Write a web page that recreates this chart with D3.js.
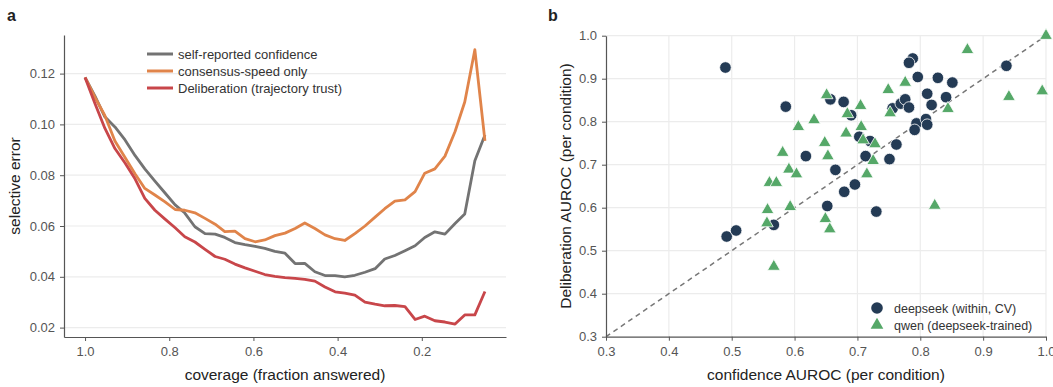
<html>
<head>
<meta charset="utf-8">
<title>Selective error and AUROC</title>
<script src="https://d3js.org/d3.v7.min.js"></script>
<style>
  body { margin: 0; background: #fff; }
  text { font-family: "Liberation Sans", Arial, sans-serif; }
</style>
</head>
<body>
<div id="chart"></div>
<script>
// panel a data
var coverage = [1.000, 0.976, 0.953, 0.929, 0.905, 0.881, 0.858, 0.834, 0.810, 0.786,
    0.763, 0.739, 0.715, 0.691, 0.668, 0.644, 0.620, 0.596, 0.573, 0.549,
    0.525, 0.501, 0.478, 0.454, 0.430, 0.406, 0.383, 0.359, 0.335, 0.311,
    0.288, 0.264, 0.240, 0.216, 0.193, 0.169, 0.145, 0.121, 0.098, 0.074, 0.050];
var selfReported = [0.1185, 0.1110, 0.1030, 0.0990, 0.0939, 0.0877, 0.0825, 0.0777, 0.0730, 0.0683,
    0.0651, 0.0597, 0.0570, 0.0568, 0.0555, 0.0535, 0.0527, 0.0520, 0.0512, 0.0500,
    0.0493, 0.0452, 0.0453, 0.0420, 0.0405, 0.0405, 0.0400, 0.0406, 0.0418, 0.0432,
    0.0470, 0.0484, 0.0503, 0.0522, 0.0555, 0.0577, 0.0568, 0.0610, 0.0647, 0.0857, 0.0958];
var consensusSpeed = [0.1185, 0.1105, 0.1035, 0.0935, 0.0870, 0.0805, 0.0748, 0.0722, 0.0695, 0.0665,
    0.0662, 0.0652, 0.0630, 0.0607, 0.0578, 0.0580, 0.0550, 0.0538, 0.0545, 0.0562,
    0.0572, 0.0590, 0.0612, 0.0590, 0.0565, 0.0550, 0.0543, 0.0570, 0.0600, 0.0635,
    0.0668, 0.0698, 0.0703, 0.0735, 0.0808, 0.0825, 0.0875, 0.0972, 0.1088, 0.1294, 0.0935];
var deliberation = [0.1185, 0.1080, 0.0985, 0.0905, 0.0848, 0.0785, 0.0709, 0.0662, 0.0627, 0.0593,
    0.0558, 0.0537, 0.0508, 0.0480, 0.0469, 0.0450, 0.0435, 0.0422, 0.0409, 0.0402,
    0.0397, 0.0394, 0.0390, 0.0383, 0.0360, 0.0341, 0.0336, 0.0328, 0.0300, 0.0292,
    0.0286, 0.0287, 0.0283, 0.0232, 0.0245, 0.0227, 0.0222, 0.0214, 0.0250, 0.0250, 0.0342];
var seriesNames = ["self-reported confidence", "consensus-speed only", "Deliberation (trajectory trust)"];
var seriesColors = ["#737373", "#e0844a", "#c8464a"];
var aXTicks = [1.0, 0.8, 0.6, 0.4, 0.2];
var aYTicks = [0.02, 0.04, 0.06, 0.08, 0.10, 0.12];

// panel b data
var deepseekConf = [0.490, 0.586, 0.618, 0.652, 0.567, 0.492, 0.507, 0.665, 0.679, 0.696,
    0.657, 0.678, 0.690, 0.703, 0.713, 0.720, 0.730, 0.751, 0.762, 0.756,
    0.769, 0.776, 0.782, 0.788, 0.782, 0.796, 0.811, 0.818, 0.828, 0.851,
    0.841, 0.794, 0.791, 0.809, 0.811, 0.937];
var deepseekDelib = [0.926, 0.835, 0.720, 0.604, 0.560, 0.533, 0.547, 0.688, 0.637, 0.654,
    0.852, 0.846, 0.815, 0.765, 0.720, 0.755, 0.591, 0.713, 0.747, 0.831,
    0.842, 0.852, 0.833, 0.947, 0.937, 0.904, 0.865, 0.839, 0.902, 0.891,
    0.857, 0.796, 0.781, 0.806, 0.793, 0.930];
var qwenConf = [0.651, 0.631, 0.606, 0.648, 0.581, 0.653, 0.591, 0.603, 0.560, 0.571,
    0.593, 0.557, 0.556, 0.649, 0.656, 0.567, 0.684, 0.705, 0.682, 0.706,
    0.709, 0.728, 0.725, 0.715, 0.749, 0.776, 0.752, 0.844, 0.875, 0.941,
    0.994, 0.823, 1.000];
var qwenDelib = [0.862, 0.804, 0.788, 0.751, 0.728, 0.720, 0.689, 0.678, 0.658, 0.658,
    0.602, 0.595, 0.564, 0.574, 0.550, 0.463, 0.818, 0.837, 0.773, 0.788,
    0.757, 0.748, 0.709, 0.678, 0.874, 0.891, 0.820, 0.830, 0.967, 0.858,
    0.871, 0.605, 1.000];
var bTicks = [0.3, 0.4, 0.5, 0.6, 0.7, 0.8, 0.9, 1.0];
var bLegend = ["deepseek (within, CV)", "qwen (deepseek-trained)"];

var width = 1053, height = 387,
    tickColor = "#555",
    gridColor = "#ececec",
    spineColor = "#555";

var svg = d3.select("#chart").append("svg")
    .attr("width", width)
    .attr("height", height);

function styleAxis(g) {
    g.select(".domain").attr("stroke", spineColor).attr("stroke-width", 1.2);
    g.selectAll(".tick line").attr("stroke", spineColor);
    g.selectAll(".tick text").attr("fill", tickColor).attr("font-size", 13);
}

// ---------- panel a ----------
var ax = d3.scaleLinear().domain([1.05, 0.0]).range([64, 506]);
var ay = d3.scaleLinear().domain([0.0163, 0.1352]).range([337, 35]);

var pa = svg.append("g");

pa.append("g").selectAll("line").data(aYTicks).enter().append("line")
    .attr("x1", 64).attr("x2", 506)
    .attr("y1", function (d) { return ay(d); })
    .attr("y2", function (d) { return ay(d); })
    .attr("stroke", gridColor).attr("stroke-width", 1.2);

pa.append("g").attr("transform", "translate(0,337)")
    .call(d3.axisBottom(ax).tickValues(aXTicks).tickFormat(d3.format(".1f")).tickSize(4).tickPadding(6).tickSizeOuter(0))
    .call(styleAxis);
pa.append("g").attr("transform", "translate(64,0)")
    .call(d3.axisLeft(ay).tickValues(aYTicks).tickFormat(d3.format(".2f")).tickSize(4).tickPadding(5).tickSizeOuter(0))
    .call(styleAxis);

var lineData = [selfReported, consensusSpeed, deliberation];
var line = d3.line()
    .x(function (d, i) { return ax(coverage[i]); })
    .y(function (d) { return ay(d); });

pa.selectAll(".series").data(lineData).enter().append("path")
    .attr("class", "series")
    .attr("d", line)
    .attr("fill", "none")
    .attr("stroke", function (d, i) { return seriesColors[i]; })
    .attr("stroke-width", 2.8)
    .attr("stroke-linejoin", "round");

// legend a
var legA = pa.append("g").attr("transform", "translate(147,54)");
seriesNames.forEach(function (name, i) {
    var row = legA.append("g").attr("transform", "translate(0," + (i * 17) + ")");
    row.append("line").attr("x1", 0).attr("x2", 26).attr("y1", 0).attr("y2", 0)
        .attr("stroke", seriesColors[i]).attr("stroke-width", 3);
    row.append("text").attr("x", 31).attr("y", 4.5).attr("font-size", 13).attr("fill", "#333").text(name);
});

pa.append("text").attr("x", 285).attr("y", 380).attr("text-anchor", "middle")
    .attr("font-size", 15.5).attr("fill", "#222").text("coverage (fraction answered)");
pa.append("text").attr("transform", "translate(20,186) rotate(-90)").attr("text-anchor", "middle")
    .attr("font-size", 15.5).attr("fill", "#222").text("selective error");
pa.append("text").attr("x", 7).attr("y", 21).attr("font-size", 16).attr("font-weight", "bold")
    .attr("fill", "#222").text("a");

// ---------- panel b ----------
var bx = d3.scaleLinear().domain([0.3, 1.0]).range([606, 1046]);
var by = d3.scaleLinear().domain([0.3, 1.0]).range([336.7, 35.7]);

var pb = svg.append("g");

pb.append("g").selectAll("line").data(bTicks.slice(1)).enter().append("line")
    .attr("x1", 606).attr("x2", 1046)
    .attr("y1", function (d) { return by(d); })
    .attr("y2", function (d) { return by(d); })
    .attr("stroke", gridColor).attr("stroke-width", 1.2);
pb.append("g").selectAll("line").data(bTicks.slice(1)).enter().append("line")
    .attr("y1", 35.7).attr("y2", 336.7)
    .attr("x1", function (d) { return bx(d); })
    .attr("x2", function (d) { return bx(d); })
    .attr("stroke", gridColor).attr("stroke-width", 1.2);

pb.append("line")
    .attr("x1", bx(0.3)).attr("y1", by(0.3))
    .attr("x2", bx(1.0)).attr("y2", by(1.0))
    .attr("stroke", "#777").attr("stroke-width", 1.5)
    .attr("stroke-dasharray", "5,4");

pb.append("g").attr("transform", "translate(0,336.7)")
    .call(d3.axisBottom(bx).tickValues(bTicks).tickFormat(d3.format(".1f")).tickSize(4).tickPadding(6).tickSizeOuter(0))
    .call(styleAxis);
pb.append("g").attr("transform", "translate(606,0)")
    .call(d3.axisLeft(by).tickValues(bTicks).tickFormat(d3.format(".1f")).tickSize(4).tickPadding(5).tickSizeOuter(0))
    .call(styleAxis);

var navy = "#243b55", green = "#55a868";
var tri = d3.symbol().type(d3.symbolTriangle).size(70);

pb.append("g").selectAll("circle").data(deepseekConf).enter().append("circle")
    .attr("cx", function (d) { return bx(d); })
    .attr("cy", function (d, i) { return by(deepseekDelib[i]); })
    .attr("r", 5.8)
    .attr("fill", navy).attr("stroke", "#fff").attr("stroke-width", 0.8);

pb.append("g").selectAll("path").data(qwenConf).enter().append("path")
    .attr("d", tri)
    .attr("transform", function (d, i) { return "translate(" + bx(d) + "," + by(qwenDelib[i]) + ")"; })
    .attr("fill", green).attr("stroke", "#fff").attr("stroke-width", 0.8);

// legend b
var legB = pb.append("g").attr("transform", "translate(877,308)");
legB.append("circle").attr("cx", 0).attr("cy", 0).attr("r", 5.8).attr("fill", navy);
legB.append("path").attr("d", tri).attr("transform", "translate(0,17)").attr("fill", green);
legB.append("text").attr("x", 17).attr("y", 4.5).attr("font-size", 12.5).attr("fill", "#333").text(bLegend[0]);
legB.append("text").attr("x", 17).attr("y", 21.5).attr("font-size", 12.5).attr("fill", "#333").text(bLegend[1]);

pb.append("text").attr("x", 826).attr("y", 380).attr("text-anchor", "middle")
    .attr("font-size", 15.5).attr("fill", "#222").text("confidence AUROC (per condition)");
pb.append("text").attr("transform", "translate(571,186) rotate(-90)").attr("text-anchor", "middle")
    .attr("font-size", 15.5).attr("fill", "#222").text("Deliberation AUROC (per condition)");
pb.append("text").attr("x", 548).attr("y", 21).attr("font-size", 16).attr("font-weight", "bold")
    .attr("fill", "#222").text("b");
</script>
</body>
</html>
